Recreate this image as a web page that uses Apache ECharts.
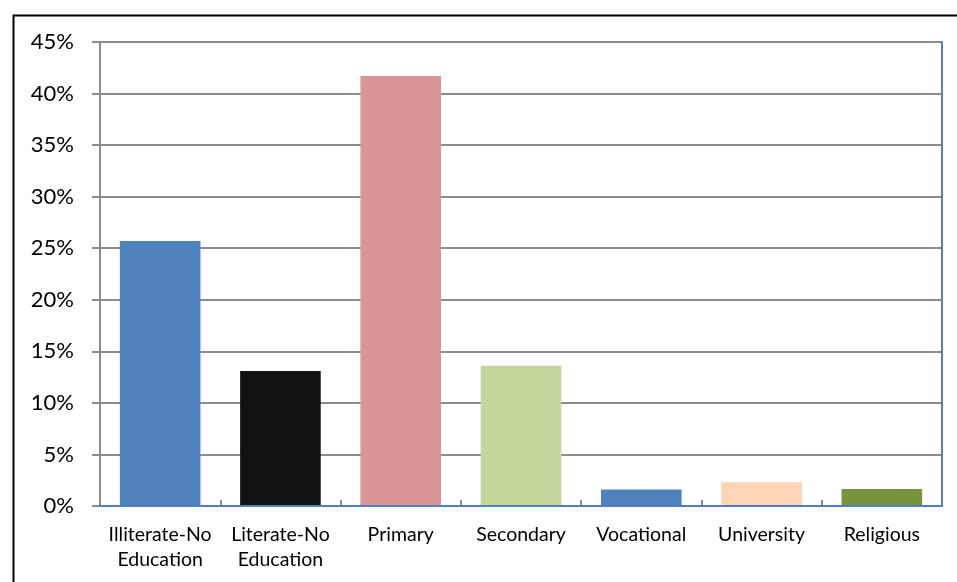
<!DOCTYPE html>
<html>
<head>
<meta charset="utf-8">
<script src="https://cdn.jsdelivr.net/npm/echarts@6/dist/echarts.min.js"></script>
<style>
  html, body { margin: 0; padding: 0; background: #ffffff; }
  #chart { width: 957px; height: 582px; }
</style>
</head>
<body>
<div id="chart"></div>
<script>
// Education level categories (two-line labels use \n)
const categories = [
  'Illiterate-No\nEducation',
  'Literate-No\nEducation',
  'Primary',
  'Secondary',
  'Vocational',
  'University',
  'Religious'
];

// Share of respondents, in percent
const shares = [25.7, 13.1, 41.7, 13.6, 1.6, 2.3, 1.65];

// One fill per bar
const barColors = ['#4F81BD', '#111111', '#D99594', '#C3D69B', '#4F81BD', '#FBD5B5', '#77933C'];

// Y axis range
const yMin = 0;
const yMax = 45;
const yStep = 5;

const chart = echarts.init(document.getElementById('chart'), null, { renderer: 'canvas' });

const fontFamily = 'Lato, "Open Sans", sans-serif';
const gray = '#8C8C8C';
const frameBlue = '#4F81BD';

chart.setOption({
  animation: false,
  backgroundColor: '#ffffff',
  graphic: [{
    type: 'rect',
    left: 11,
    top: 13,
    shape: { width: 1000, height: 1000 },
    style: { fill: 'none', stroke: '#000000', lineWidth: 2 },
    silent: true,
    z: -10
  }],
  grid: {
    left: 100,
    top: 42,
    right: 15,
    bottom: 76
  },
  xAxis: [{
    type: 'category',
    data: categories,
    axisLine: { show: true, lineStyle: { color: gray, width: 2 } },
    axisTick: { show: true, inside: true, length: 6, lineStyle: { color: gray, width: 2 } },
    axisLabel: {
      color: '#000000',
      fontFamily: fontFamily,
      fontSize: 19.5,
      lineHeight: 25,
      margin: 16,
      interval: 0
    },
    splitLine: { show: false }
  }, {
    // blue frame along the top of the plot
    type: 'category',
    position: 'top',
    data: categories,
    axisLine: { show: true, lineStyle: { color: frameBlue, width: 2 } },
    axisTick: { show: false },
    axisLabel: { show: false },
    splitLine: { show: false },
    z: 5
  }],
  yAxis: [{
    type: 'value',
    min: yMin,
    max: yMax,
    interval: yStep,
    axisLine: { show: true, lineStyle: { color: gray, width: 2 } },
    axisTick: { show: true, length: 8, lineStyle: { color: gray, width: 2 } },
    axisLabel: {
      formatter: '{value}%',
      color: '#000000',
      fontFamily: fontFamily,
      fontSize: 22,
      margin: 26
    },
    splitLine: { show: true, lineStyle: { color: gray, width: 2 } }
  }, {
    // blue frame along the right of the plot
    type: 'value',
    position: 'right',
    min: yMin,
    max: yMax,
    interval: yStep,
    axisLine: { show: true, lineStyle: { color: frameBlue, width: 2 } },
    axisTick: { show: false },
    axisLabel: { show: false },
    splitLine: { show: false },
    z: 5
  }],
  series: [{
    type: 'bar',
    barWidth: '67%',
    data: shares.map((v, i) => ({ value: v, itemStyle: { color: barColors[i] } }))
  }]
});
</script>
</body>
</html>
